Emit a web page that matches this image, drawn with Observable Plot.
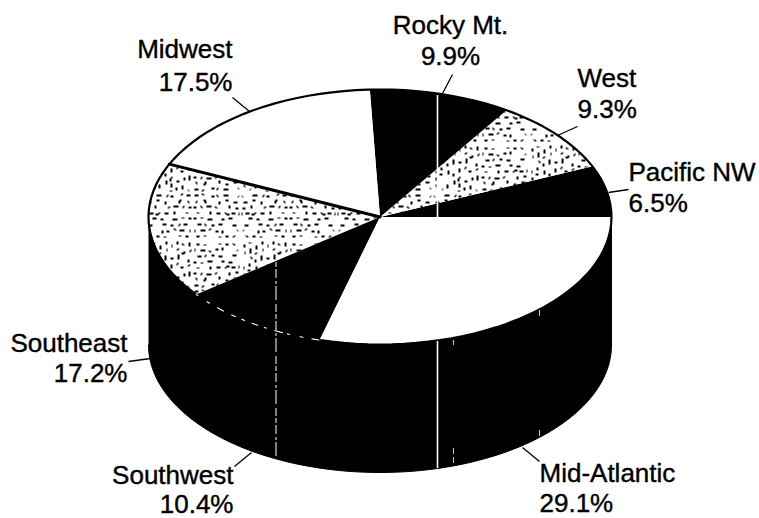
<!DOCTYPE html>
<html>
<head>
<meta charset="utf-8">
<script src="https://cdn.jsdelivr.net/npm/d3@7"></script>
<script src="https://cdn.jsdelivr.net/npm/@observablehq/plot@0.6"></script>
<style>html,body{margin:0;padding:0;background:#fff}svg{display:block}</style>
</head>
<body>
<div id="chart"></div>
<script>
// Data
const regions = ["Pacific NW","West","Rocky Mt.","Midwest","Southeast","Southwest","Mid-Atlantic"];
const shares = [6.5,9.3,9.9,17.5,17.2,10.4,29.1];
const fills = ["black","url(#stipple)","black","white","url(#stipple)","black","white"];

// Layout of the pie, in chart units
const W = 759, H = 518, cx = 379.5, cy = 216.5, rx = 231.5, ry = 127.5, depth = 128;
const pt = (deg, dy = 0) => ({x: cx + rx * Math.cos(deg * Math.PI / 180), y: cy + dy - ry * Math.sin(deg * Math.PI / 180)});
const arc = (a, b, dy = 0) => d3.range(0, 121).map(i => pt(a + (b - a) * i / 120, dy));

// Slices from the shares
let acc = 0;
const slices = [];
regions.forEach((r, i) => {
  const a = acc * 3.6, b = (acc + shares[i]) * 3.6;
  acc += shares[i];
  [{x: cx, y: cy}, ...arc(a, b), {x: cx, y: cy}].forEach(p => slices.push({...p, region: r, i}));
});
const sliceOf = i => slices.filter(d => d.i === i);
const wallPts = [...arc(180, 360), ...arc(360, 180, depth)];
const rimPts = arc(0, 360);
const seAngle = (6.5+9.3+9.9+17.5+17.2) * 3.6, swAngle = seAngle + 10.4 * 3.6;
const swRim = arc(seAngle, swAngle);
const borderPts = [pt((6.5+9.3+9.9+17.5) * 3.6), {x: cx, y: cy}];

// Labels and leaders
const labels = [
  ["Midwest", 232, 57, "end"], ["17.5%", 232, 90, "end"],
  ["Rocky Mt.", 450, 33, "middle"], ["9.9%", 450, 64, "middle"],
  ["West", 577, 86, "start"], ["9.3%", 577, 117, "start"],
  ["Pacific NW", 628, 180, "start"], ["6.5%", 628, 211, "start"],
  ["Southeast", 127, 351, "end"], ["17.2%", 127, 381, "end"],
  ["Southwest", 233, 483, "end"], ["10.4%", 233, 512, "end"],
  ["Mid-Atlantic", 539, 481, "start"], ["29.1%", 539, 511, "start"]
].map(([t, x, y, anchor]) => ({t, x, y, anchor}));
const leaders = [
  [232,97,249,111],[452,74,442,93],[577,126,557,135],[628,189,608,192],
  [128,361,150,358],[234,466,251,452],[539,461,522,447]
].map(([x1,y1,x2,y2]) => ({x1,y1,x2,y2}));
const streaks = [
  {x: 437, y1: 95, y2: 217, w: 1.6, dash: null},
  {x: 437, y1: 341, y2: 468, w: 1.6, dash: null},
  {x: 275.5, y1: 262, y2: 457, w: 1, dash: "5 2 9 3 3 2 14 4 8 2"},
  {x: 453, y1: 340, y2: 345, w: 0.8, dash: null},
  {x: 453, y1: 448, y2: 465, w: 0.8, dash: "6 3"},
  {x: 539, y1: 310, y2: 316, w: 0.8, dash: null},
  {x: 539, y1: 430, y2: 436, w: 0.8, dash: null}
];

const common = {x: "x", y: "y", curve: "linear"};
const chart = Plot.plot({
  width: W, height: H, margin: 0,
  x: {domain: [0, W], axis: null},
  y: {domain: [H, 0], axis: null},
  marks: [
    Plot.line(wallPts, {...common, fill: "black", stroke: "black", strokeWidth: 1}),
    regions.map((r, i) => Plot.line(sliceOf(i), {...common, fill: fills[i], stroke: "none"})),
    Plot.line(rimPts, {...common, stroke: "black", strokeWidth: 2.2}),
    Plot.line(borderPts, {...common, stroke: "black", strokeWidth: 3}),
    Plot.line(swRim, {...common, stroke: "white", strokeWidth: 1.1, strokeDasharray: "2 11 3 9 7 9 4 7 3 8 6 7 2 9 8 5"}),
    streaks.map(s => Plot.ruleX([s], {x: "x", y1: "y1", y2: "y2", stroke: "white", strokeWidth: s.w, strokeDasharray: s.dash})),
    Plot.link(leaders, {x1: "x1", y1: "y1", x2: "x2", y2: "y2", stroke: "black", strokeWidth: 1.3}),
    ["start", "middle", "end"].map(a => Plot.text(labels.filter(d => d.anchor === a), {
      x: "x", y: "y", text: "t", textAnchor: a, lineAnchor: "bottom",
      fontFamily: "Liberation Sans", fontSize: 26, fill: "black", stroke: "black", strokeWidth: 0.4
    }))
  ]
});

// Stipple texture used by the two shaded slices
const dashes = "M2 3h4M9 1l3 2M19 4h3M24 2l2 3M31 3h5M45 5l2-2M5 8l-2 3M11 8h2M13 8v3M27 9v3M33 8h3M41 10h4M1 15h3M8 13l2 3M14 14h5M22 14l3 2M37 13v3M43 16h3M4 20l3 1M18 19v3M24 21h4M32 20l3 2M34 22h3M39 21h4M46 20l1 3M1 26h3M8 26l3-1M15 27h5M29 27h3M36 26h4M5 32h4M12 31l2 3M19 33h3M26 32h4M40 33h4M2 37l1 3M8 38h5M16 38l3-2M23 39h3M30 38v3M44 37l2 2M4 44h3M11 43l3 1M26 45l3-1M33 44h3M40 45l3-2";
const defs = d3.select(chart).insert("defs", ":first-child");
const pat = defs.append("pattern").attr("id", "stipple").attr("patternUnits", "userSpaceOnUse")
  .attr("width", 96).attr("height", 96);
pat.append("rect").attr("width", 96).attr("height", 96).attr("fill", "white");
[null, "translate(96,0) scale(-1,1)", "translate(0,96) scale(1,-1)", "translate(96,48) rotate(90)"].forEach(t => {
  const p = pat.append("path").attr("d", dashes).attr("stroke", "black").attr("stroke-width", 1.1)
    .attr("fill", "none").attr("shape-rendering", "crispEdges");
  if (t) p.attr("transform", t);
});
document.getElementById("chart").append(chart);
</script>
</body>
</html>
